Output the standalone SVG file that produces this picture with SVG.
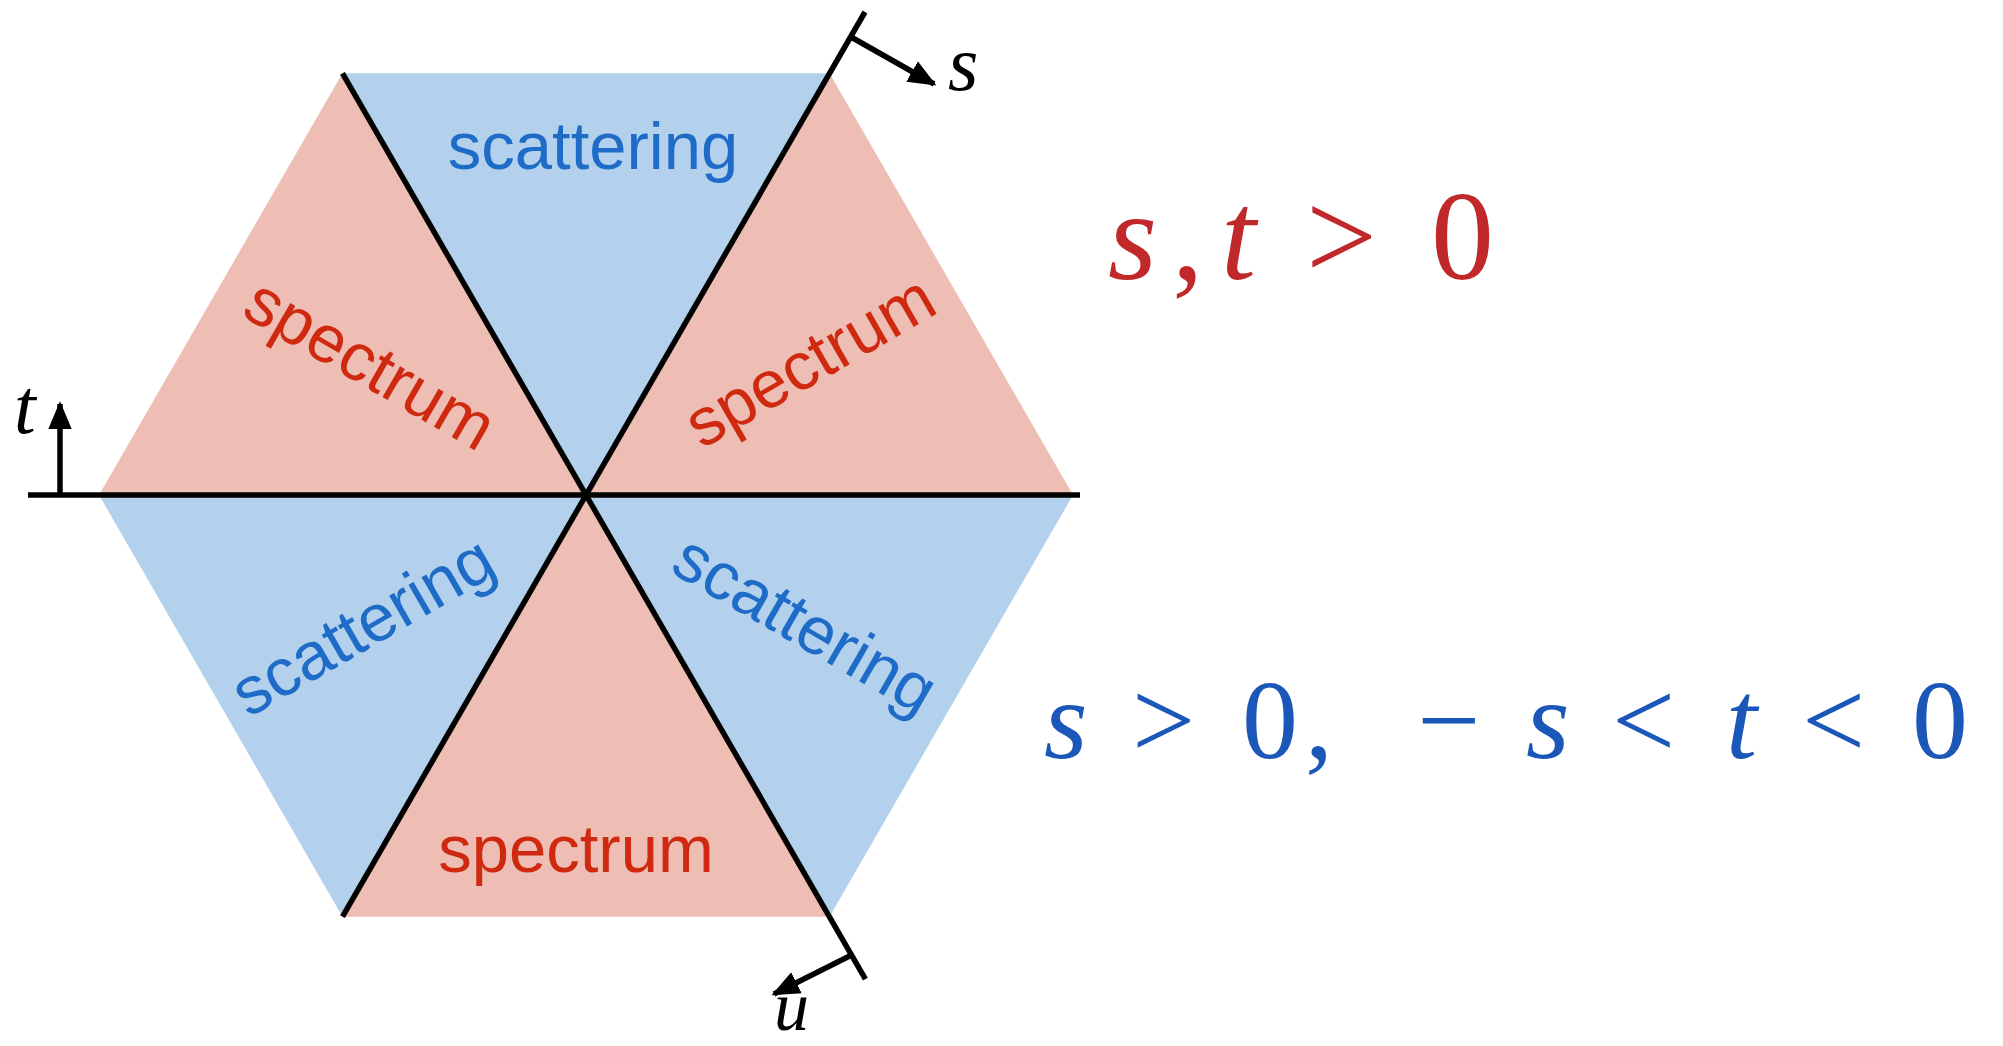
<svg xmlns="http://www.w3.org/2000/svg" width="2003" height="1046" viewBox="0 0 2003 1046">
<style>
.pink{fill:#EEBDB3}
.blue{fill:#B3D1EC}
.ln{stroke:#000;stroke-width:5.5;fill:none}
.lab{font-family:"Liberation Sans",Arial,sans-serif;font-size:67px;text-anchor:middle}
.sp{fill:#CF2A10}
.sc{fill:#1E6CC8}
.math{font-family:"Liberation Serif","Times New Roman",serif}
.it{font-style:italic}
</style>
<defs>
<marker id="ah" viewBox="0 0 10 10" refX="9" refY="5" markerWidth="28" markerHeight="28" orient="auto" markerUnits="userSpaceOnUse">
<path d="M0,0.8 L10,5 L0,9.2 z" fill="#000"/>
</marker>
</defs>
<g id="regions">
<polygon id="r-top" class="blue" points="586,495 829.5,73.3 342.5,73.3"/>
<polygon id="r-ur" class="pink" points="586,495 1073,495 829.5,73.3"/>
<polygon id="r-ul" class="pink" points="586,495 342.5,73.3 99,495"/>
<polygon id="r-ll" class="blue" points="586,495 99,495 342.5,916.7"/>
<polygon id="r-bot" class="pink" points="586,495 342.5,916.7 829.5,916.7"/>
<polygon id="r-lr" class="blue" points="586,495 829.5,916.7 1073,495"/>
</g>
<g id="connectors">
<line class="ln" x1="28" y1="495" x2="1080" y2="495" stroke-width="6"/>
<line class="ln" x1="342.5" y1="916.7" x2="865" y2="12"/>
<line class="ln" x1="342.5" y1="73.3" x2="865.4" y2="979"/>
<line class="ln" x1="60" y1="495" x2="60" y2="404" marker-end="url(#ah)"/>
<line class="ln" x1="851" y1="37" x2="934" y2="84" marker-end="url(#ah)"/>
<line class="ln" x1="851.6" y1="955" x2="774" y2="994" marker-end="url(#ah)"/>
</g>
<g id="labels">
<text class="lab sc" x="593" y="169">scattering</text>
<text class="lab sp" x="576" y="872">spectrum</text>
<text class="lab sp" transform="translate(368,368) rotate(30)" x="0" y="18">spectrum</text>
<text class="lab sp" transform="translate(812,365) rotate(-30)" x="0" y="18">spectrum</text>
<text class="lab sc" transform="translate(365,630) rotate(-30)" x="0" y="18">scattering</text>
<text class="lab sc" transform="translate(803,628) rotate(30)" x="0" y="18">scattering</text>
</g>
<g id="axis-labels" class="math it" fill="#000">
<text x="948" y="90" font-size="78">s</text>
<text x="14" y="433" font-size="78">t</text>
<text x="774" y="1030" font-size="70">u</text>
</g>
<g id="formula-red" class="math" font-size="126" fill="#C0282A">
<text y="279"><tspan class="it" x="1108">s</tspan><tspan x="1172">,</tspan><tspan class="it" x="1221">t</tspan><tspan x="1306">&gt;</tspan><tspan x="1431">0</tspan></text>
</g>
<g id="formula-blue" class="math" font-size="112" fill="#1B57B8">
<text y="758"><tspan class="it" x="1044">s</tspan><tspan x="1132">&gt;</tspan><tspan x="1242">0</tspan><tspan x="1305">,</tspan><tspan x="1417">−</tspan><tspan class="it" x="1526">s</tspan><tspan x="1612">&lt;</tspan><tspan class="it" x="1726">t</tspan><tspan x="1802">&lt;</tspan><tspan x="1912">0</tspan></text>
</g>
</svg>
